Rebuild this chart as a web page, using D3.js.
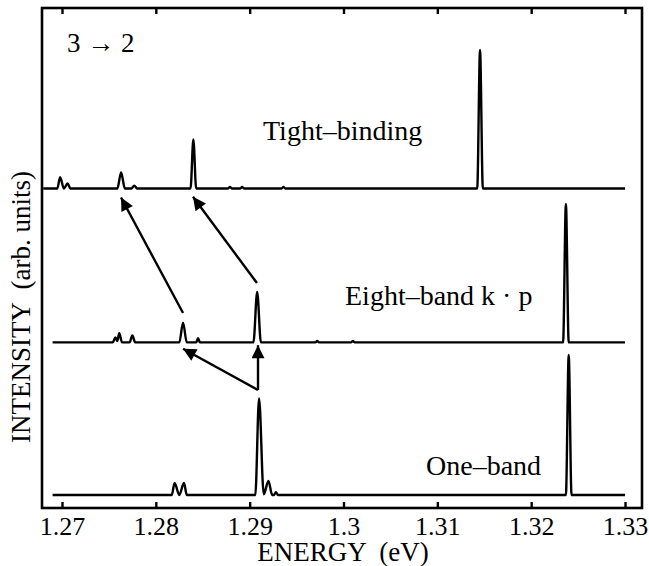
<!DOCTYPE html>
<html lang="en">
<head>
    <meta charset="UTF-8">
    <title>3 to 2 spectra</title>
    <script src="https://cdn.jsdelivr.net/npm/d3@7/dist/d3.min.js"></script>
    <style>
        body { margin: 0; background: #fff; }
        svg text { white-space: pre; }
    </style>
</head>
<body>
<svg width="649" height="566" id="main"></svg>
<script>
    // spectra as [energy (eV), intensity] points, one-band at 0, others offset
    let tightBinding = [
        [1.2680, 0], [1.2695, 0], [1.2698, 0.08], [1.2702, 0.0], [1.2706, 0.035], [1.2709, 0],
        [1.2759, 0], [1.2763, 0.114], [1.2767, 0], [1.2774, 0], [1.2777, 0.02], [1.2780, 0],
        [1.2837, 0], [1.2840, 0.35], [1.2843, 0],
        [1.2877, 0], [1.2879, 0.01], [1.2881, 0], [1.2890, 0], [1.2892, 0.01], [1.2894, 0],
        [1.2934, 0], [1.2936, 0.01], [1.2938, 0],
        [1.31425, 0], [1.31455, 0.99], [1.31485, 0], [1.3300, 0]
    ];
    let eightBand = [
        [1.2690, 0], [1.2754, 0], [1.2757, 0.035], [1.2759, 0.01], [1.2761, 0.065], [1.2764, 0],
        [1.2772, 0], [1.2775, 0.05], [1.2778, 0],
        [1.2825, 0], [1.2829, 0.14], [1.2833, 0], [1.2843, 0], [1.2845, 0.03], [1.2847, 0],
        [1.2904, 0], [1.2908, 0.36], [1.2912, 0],
        [1.2970, 0], [1.2972, 0.01], [1.2974, 0], [1.3008, 0], [1.3010, 0.01], [1.3012, 0],
        [1.3234, 0], [1.3237, 0.99], [1.3240, 0], [1.3300, 0]
    ];
    let oneBand = [
        [1.2690, 0], [1.2817, 0], [1.2820, 0.086], [1.2825, 0.0], [1.2830, 0.086], [1.2833, 0],
        [1.2906, 0], [1.2910, 0.69], [1.2915, 0.005], [1.2920, 0.1], [1.2924, 0],
        [1.2926, 0], [1.2928, 0.02], [1.2930, 0],
        [1.3237, 0], [1.3240, 1.0], [1.3243, 0], [1.3300, 0]
    ];
    let offsets = [2.19, 1.09, 0];
    let seriesNames = ["Tight\u2013binding", "Eight\u2013band k \u00b7 p", "One\u2013band"];
    // label anchors [energy, intensity]
    let labelPos = [[1.29142, 2.536], [1.30016, 1.357], [1.30879, 0.143]];
    let xTicks = [1.27, 1.28, 1.29, 1.30, 1.31, 1.32, 1.33];
    // arrows [from energy, from intensity, to energy, to intensity]
    let arrows = [
        [1.2829, 1.30, 1.27629, 2.125],
        [1.29078, 1.514, 1.28396, 2.13],
        [1.29089, 0.75, 1.2829, 1.045],
        [1.29089, 0.75, 1.29089, 1.07]
    ];

    draw();

    function draw() {
        let margin = {top: 8, right: 7, bottom: 58, left: 42};
        let width = 649, height = 566;
        let svg = d3.select('#main');
        let serif = "Liberation Serif";

        let x = d3.scaleLinear()
            .domain([1.26787, 1.33181])
            .range([margin.left, width - margin.right]);
        let y = d3.scaleLinear()
            .domain([-0.093, 3.479])
            .range([height - margin.bottom, margin.top]);

        let line = d3.line()
            .x(d => x(d[0]))
            .y(d => y(d[1]))
            .curve(d3.curveMonotoneX);

        let all = [tightBinding, eightBand, oneBand];
        svg.append("g")
            .selectAll("path")
            .data(all)
            .join("path")
            .attr("fill", "none")
            .attr("stroke", "#000")
            .attr("stroke-width", 2.4)
            .attr("stroke-linejoin", "round")
            .attr("d", (d, i) => line(d.map(p => [p[0], p[1] + offsets[i]])));

        // arrowhead
        svg.append("defs").append("marker")
            .attr("id", "head")
            .attr("viewBox", "0 0 10 10")
            .attr("refX", 10).attr("refY", 5)
            .attr("markerWidth", 16).attr("markerHeight", 13)
            .attr("markerUnits", "userSpaceOnUse")
            .attr("orient", "auto")
            .append("path")
            .attr("d", "M0,0L10,5L0,10Z")
            .attr("fill", "#000");

        svg.append("g")
            .selectAll("line")
            .data(arrows)
            .join("line")
            .attr("x1", d => x(d[0]))
            .attr("y1", d => y(d[1]))
            .attr("x2", d => x(d[2]))
            .attr("y2", d => y(d[3]))
            .attr("stroke", "#000")
            .attr("stroke-width", 2.4)
            .attr("marker-end", "url(#head)");

        // frame and ticks
        let xAxis = d3.axisBottom(x).tickValues(xTicks).tickSize(-6).tickPadding(9)
            .tickFormat(d => d3.format("")(+d.toFixed(2)));
        let gx = svg.append("g")
            .attr("transform", `translate(0,${height - margin.bottom})`)
            .call(xAxis);
        let gt = svg.append("g")
            .attr("transform", `translate(0,${margin.top})`)
            .call(d3.axisTop(x).tickValues(xTicks).tickSize(-6).tickFormat(""));
        [gx, gt].forEach(g => {
            g.select(".domain").remove();
            g.selectAll(".tick line").attr("stroke-width", 2.4);
        });
        gx.attr("font-family", serif);
        gx.selectAll(".tick text")
            .attr("font-size", "26px")
            .attr("font-family", serif)
            .attr("fill", "#000");

        svg.append("rect")
            .attr("x", margin.left)
            .attr("y", margin.top)
            .attr("width", width - margin.left - margin.right)
            .attr("height", height - margin.top - margin.bottom)
            .attr("fill", "none")
            .attr("stroke", "#000")
            .attr("stroke-width", 2.6);

        // texts
        svg.append("g")
            .selectAll("text")
            .data(seriesNames)
            .join("text")
            .attr("x", (d, i) => x(labelPos[i][0]))
            .attr("y", (d, i) => y(labelPos[i][1]))
            .attr("font-family", serif)
            .attr("font-size", "28px")
            .text(d => d);

        svg.append("text")
            .attr("x", 67).attr("y", 52)
            .attr("font-family", serif)
            .attr("font-size", "27px")
            .text("3 \u2192 2");

        svg.append("text")
            .attr("x", 343)
            .attr("y", 561)
            .attr("text-anchor", "middle")
            .attr("font-family", serif)
            .attr("font-size", "27px")
            .text("ENERGY  (eV)");

        svg.append("text")
            .attr("transform", `translate(30,443) rotate(-90)`)
            .attr("text-anchor", "start")
            .attr("font-family", serif)
            .attr("font-size", "27px")
            .text("INTENSITY  (arb. units)");
    }
</script>
</body>
</html>
